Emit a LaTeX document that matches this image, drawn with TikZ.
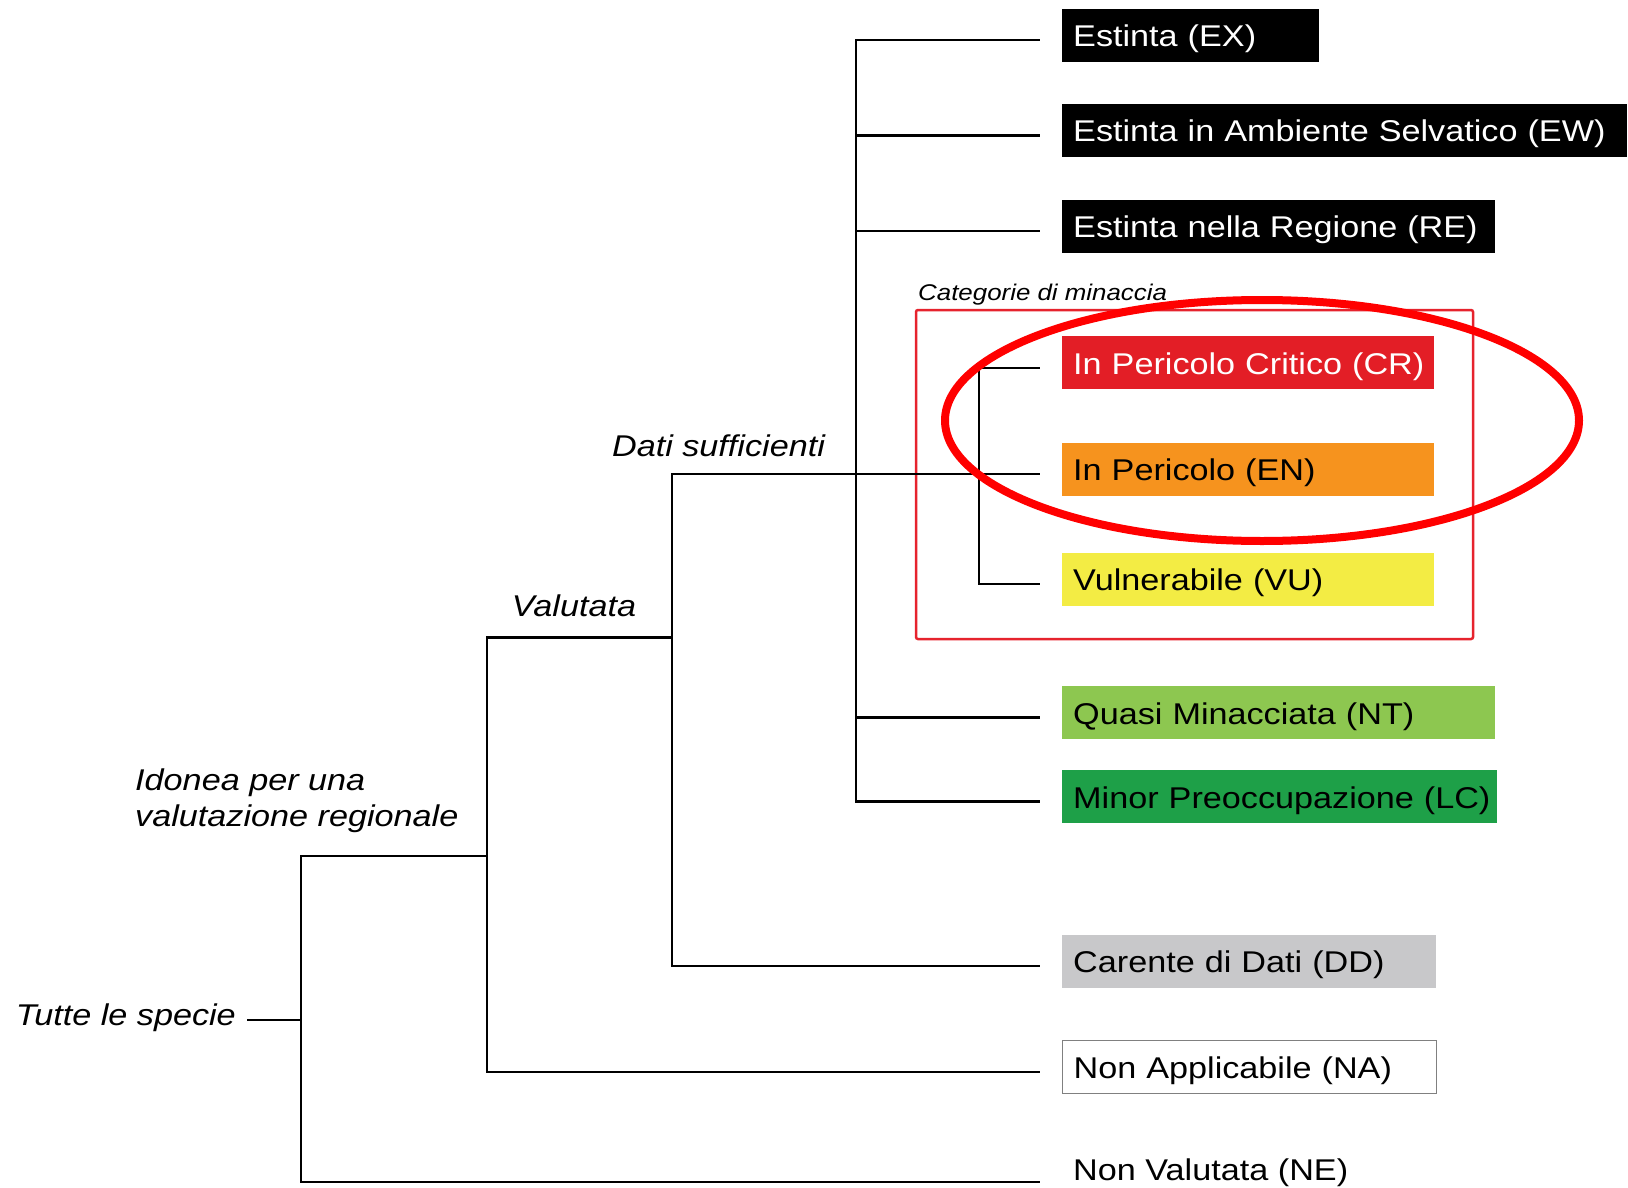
\documentclass[tikz,border=0pt]{standalone}
\usepackage{fontspec}
\setmainfont{Liberation Sans}[FakeStretch=1.14]
\definecolor{rossoCR}{RGB}{227,30,38}
\definecolor{aranEN}{RGB}{246,147,30}
\definecolor{gialVU}{RGB}{243,236,68}
\definecolor{verdeNT}{RGB}{141,199,80}
\definecolor{verdeLC}{RGB}{30,160,72}
\definecolor{grigioDD}{RGB}{200,200,202}
\definecolor{cornice}{RGB}{230,35,45}

\begin{document}
\begin{tikzpicture}[x=1pt, y=-1pt,
    ramo/.style={line width=2.2pt},
    cat/.style={anchor=west, inner sep=0pt, minimum height=53pt,
      text height=29pt, text depth=6pt, align=left, font=\fontsize{30}{36}\selectfont,
      execute at begin node={\hspace*{11pt}\hbox\bgroup}, execute at end node={\egroup}},
    etic/.style={inner sep=0pt, font=\fontsize{30}{36}\selectfont\itshape}]
  \useasboundingbox (0,0) rectangle (1628,1188);
  % cornice delle categorie di minaccia
  \draw[cornice, line width=2.5pt, rounded corners=2pt] (916,310) rectangle (1473,639);
  \node[etic, anchor=base west, font=\fontsize{22.7}{27}\selectfont\itshape] (minac) at (918,300) {Categorie di minaccia};
  % categorie
  \node[cat, fill=black, text=white, text width=257pt] (ex) at (1062,35.2) {Estinta (EX)};
  \node[cat, fill=black, text=white, text width=565pt] (ew) at (1062,130.5) {Estinta in Ambiente Selvatico (EW)};
  \node[cat, fill=black, text=white, text width=433pt] (re) at (1062,226.3) {Estinta nella Regione (RE)};
  \node[cat, fill=rossoCR, text=white, text width=372pt] (cr) at (1062,362.7) {In Pericolo Critico (CR)};
  \node[cat, fill=aranEN, text width=372pt] (en) at (1062,469.3) {In Pericolo (EN)};
  \node[cat, fill=gialVU, text width=372pt] (vu) at (1062,579) {Vulnerabile (VU)};
  \node[cat, fill=verdeNT, text width=433pt] (nt) at (1062,712.5) {Quasi Minacciata (NT)};
  \node[cat, fill=verdeLC, text width=435pt] (lc) at (1062,796.5) {Minor Preoccupazione (LC)};
  \node[cat, fill=grigioDD, text width=374pt] (dd) at (1062,961.3) {Carente di Dati (DD)};
  \node[cat, draw=gray, line width=1.2pt, text width=374pt] (na) at (1062,1066.8) {Non Applicabile (NA)};
  \node[etic, font=\fontsize{30}{36}\selectfont, anchor=base west] (ne) at (1073,1180) {Non Valutata (NE)};
  % etichette dei rami
  \node[etic, anchor=base] (dati) at (718.5,456) {Dati sufficienti};
  \node[etic, anchor=base] (valu) at (574,616.7) {Valutata};
  \node[etic, anchor=west, align=left] (idon) at (135,801) {Idonea per una\\valutazione regionale};
  \node[etic, anchor=base east] (tutte) at (236,1025) {Tutte le specie};
  % albero
  \coordinate (radice) at (301,1019.6);
  \coordinate (idonea) at (487,856);
  \coordinate (valut) at (672,637.5);
  \coordinate (suff) at (856,475.5);
  \coordinate (soglia) at (979,475.5);
  \draw[ramo] ([xshift=11pt]radice -| tutte.east) -- (radice);
  \draw[ramo] (radice) |- (idonea);
  \draw[ramo] (radice) |- ([xshift=-33pt,yshift=-2pt]ne.base west);
  \draw[ramo] (idonea) |- (valut);
  \draw[ramo] (idonea) |- ([xshift=-22pt,yshift=-5pt]na.west);
  \draw[ramo] (valut) |- ([xshift=-22pt,yshift=-5pt]en.west);
  \draw[ramo] (valut) |- ([xshift=-22pt,yshift=-5pt]dd.west);
  \foreach \c in {ex,ew,re,nt,lc}
    \draw[ramo] (suff) |- ([xshift=-22pt,yshift=-5pt]\c.west);
  \foreach \c in {cr,vu}
    \draw[ramo] (soglia) |- ([xshift=-22pt,yshift=-5pt]\c.west);
  % evidenziazione
  \draw[red, line width=8pt] (1262,420.5) ellipse [x radius=317, y radius=120.5];
\end{tikzpicture}
\end{document}
